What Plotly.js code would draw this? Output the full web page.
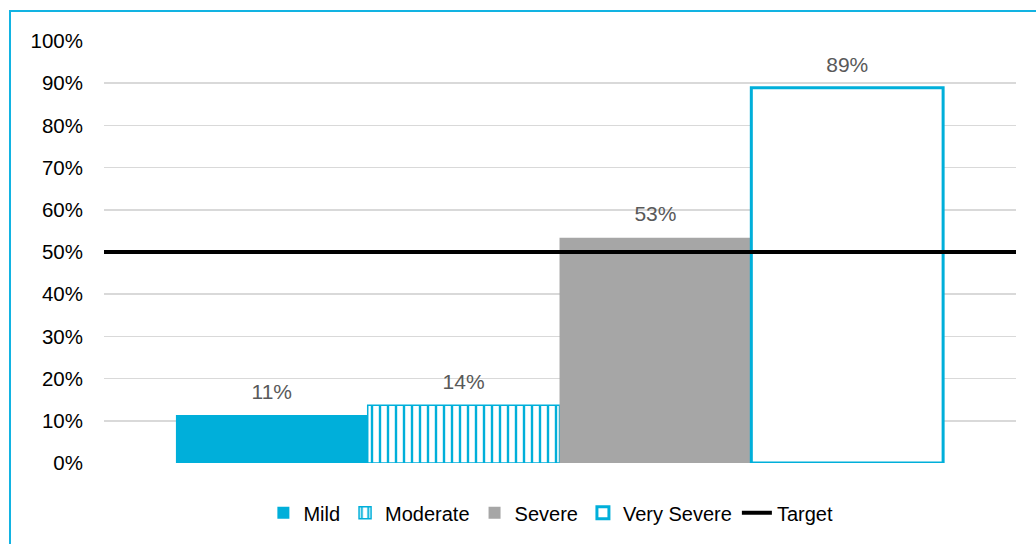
<!DOCTYPE html>
<html>
<head>
<meta charset="utf-8">
<script src="https://cdn.plot.ly/plotly-3.0.1.min.js"></script>
<style>
  html, body { margin: 0; padding: 0; background: #fff; overflow: hidden; }
  #chart { position: absolute; left: 0; top: 0; width: 1036px; height: 544px; }
  #frame { position: absolute; left: 9px; top: 10px; width: 1100px; height: 600px;
           border: 2px solid #12B3E2; pointer-events: none; }
</style>
</head>
<body>
<div id="chart"></div>
<div id="frame"></div>
<script>
// ---- data ----
const categories = ["Mild", "Moderate", "Severe", "Very Severe"];
const values = [0.114, 0.137, 0.534, 0.889];
const targetName = "Target";
const targetValue = 0.50;
const yTickVals = [0, 0.1, 0.2, 0.3, 0.4, 0.5, 0.6, 0.7, 0.8, 0.9, 1.0];
const yTickText = ["0%", "10%", "20%", "30%", "40%", "50%", "60%", "70%", "80%", "90%", "100%"];

const BLUE = "#00AFDA";
const GRAY = "#A6A6A6";
const FONT = "Liberation Sans, Arial, Helvetica, sans-serif";

const positions = categories.map((c, i) => i);

const styles = [
  { marker: { color: BLUE, line: { color: BLUE, width: 0 } } },
  { marker: { color: "#FFFFFF", line: { color: BLUE, width: 1.5 },
      pattern: { shape: "|", fgcolor: BLUE, bgcolor: "#FFFFFF", size: 8, solidity: 0.3 } } },
  { marker: { color: GRAY, line: { color: GRAY, width: 0 } } },
  { marker: { color: "#FFFFFF", line: { color: BLUE, width: 3 } } }
];

const traces = categories.map((c, i) => ({
  type: "bar",
  name: c,
  x: [positions[i]],
  y: [values[i]],
  width: [1],
  marker: styles[i].marker,
  hoverinfo: "skip"
}));

// data labels
traces.push({
  type: "scatter",
  mode: "markers+text",
  x: positions,
  y: values,
  text: values.map(v => Math.round(v * 100) + "%"),
  textposition: "top center",
  textfont: { family: FONT, size: 21, color: "#595959" },
  marker: { size: 16, opacity: 0, color: "#fff" },
  showlegend: false,
  hoverinfo: "skip",
  cliponaxis: false
});

// target line
traces.push({
  type: "scatter",
  mode: "lines",
  name: targetName,
  x: [-1.2, 4.2],
  y: [targetValue, targetValue],
  line: { color: "#000000", width: 4 },
  hoverinfo: "skip"
});

const layout = {
  width: 1036,
  height: 544,
  margin: { l: 104, r: 20, t: 41, b: 81 },
  paper_bgcolor: "rgba(0,0,0,0)",
  plot_bgcolor: "rgba(0,0,0,0)",
  font: { family: FONT, size: 20, color: "#000" },
  barmode: "overlay",
  showlegend: true,
  legend: {
    orientation: "h",
    x: 0.49, xanchor: "center",
    y: -0.118, yanchor: "middle",
    font: { family: FONT, size: 20, color: "#000" },
    itemwidth: 30,
    tracegroupgap: 0,
    traceorder: "normal"
  },
  xaxis: {
    range: [-0.875, 3.88],
    showgrid: false,
    zeroline: false,
    showticklabels: false,
    ticks: "",
    fixedrange: true
  },
  yaxis: {
    range: [0, 1],
    tickvals: yTickVals,
    ticktext: yTickText,
    showgrid: true,
    gridcolor: "#D9D9D9",
    gridwidth: 1.5,
    zeroline: false,
    showline: false,
    ticks: "",
    ticklabelstandoff: 20,
    tickfont: { family: FONT, size: 20.5, color: "#000" },
    fixedrange: true
  }
};

Plotly.newPlot("chart", traces, layout, { displayModeBar: false, staticPlot: true });
</script>
</body>
</html>
